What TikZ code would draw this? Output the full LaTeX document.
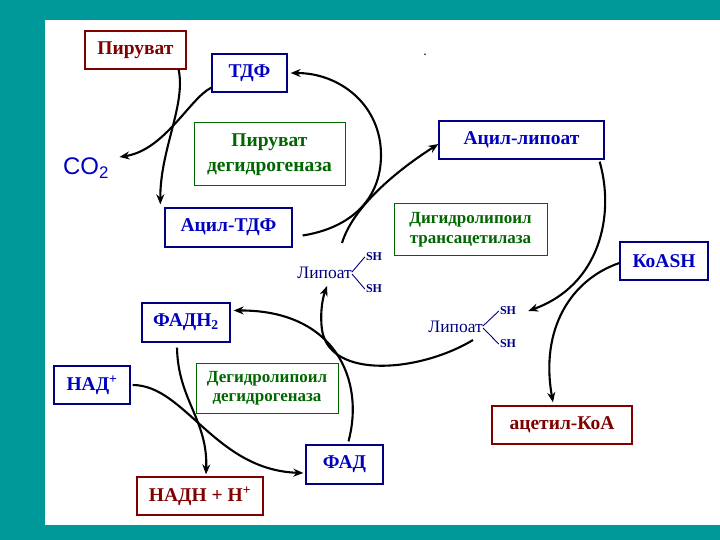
\documentclass[tikz,border=0pt]{standalone}
\usepackage{fontspec}
\setmainfont{Liberation Serif}
\newfontfamily\sansco{Liberation Sans}
\usetikzlibrary{arrows.meta,calc}
\definecolor{slideteal}{HTML}{009999}
\definecolor{subred}{HTML}{800000}
\definecolor{subblue}{HTML}{0000C0}
\definecolor{subnavy}{HTML}{000080}
\definecolor{enzgreen}{HTML}{006600}
\tikzset{
  redbox/.style={draw=subred, text=subred, line width=1.3pt, fill=white,
                 minimum height=38pt, inner sep=0pt, font=\fontsize{19.5}{22}\selectfont\bfseries},
  bluebox/.style={draw=subnavy, text=subblue, line width=1.3pt, fill=white,
                  minimum height=38pt, inner sep=0pt, font=\fontsize{19.5}{22}\selectfont\bfseries},
  enzbox/.style={draw=enzgreen, text=enzgreen, line width=1pt, fill=white,
                 align=center, inner sep=0pt},
  lipo/.style={text=subnavy, inner sep=0pt, font=\fontsize{17.5}{20}\selectfont},
  shlab/.style={text=subnavy, inner sep=1pt, font=\fontsize{12}{14}\selectfont\bfseries},
  react/.style={line width=2.1pt, -{Stealth[length=10pt,width=8pt]}}
}

\begin{document}
\begin{tikzpicture}[x=1pt,y=-1pt]
  % Slide frame
  \useasboundingbox (0,0) rectangle (720,540);
  \fill[slideteal] (0,0) rectangle (720,540);
  \fill[white] (45,20) rectangle (720,525);

  % Pyruvate dehydrogenase step
  \node[redbox, minimum width=101pt] (pyr) at (135.5,50) {Пируват};
  \node[bluebox, minimum width=75pt] (tdf) at (249.5,73) {ТДФ};
  \node[enzbox, minimum width=151pt, minimum height=63pt,
        font=\fontsize{19.5}{25}\selectfont\bfseries] (pdh) at (269.5,154.5) {Пируват\\дегидрогеназа};
  \node[text=subblue, font=\sansco\fontsize{24}{26}\selectfont] (co2) at (86,168) {CO\textsubscript{2}};
  \node[bluebox, minimum width=127pt, minimum height=39pt] (acyltdf) at (228.5,227.5) {Ацил-ТДФ};
  \node[font=\bfseries] (dot) at (425,55) {.};

  % Transacetylase step
  \node[bluebox, minimum width=165pt] (acyllip) at (521.5,140) {Ацил-липоат};
  \node[enzbox, minimum width=153pt, minimum height=51pt,
        font=\fontsize{17}{20}\selectfont\bfseries] (dlt) at (470.5,229.5) {Дигидролипоил\\трансацетилаза};
  \node[bluebox, minimum width=88pt] (coash) at (664,261) {КоASH};
  \node[redbox, minimum width=140pt] (acoa) at (562,425) {ацетил-КоА};

  % Lipoate forms
  \node[lipo, anchor=east] (lip1) at (352,273) {Липоат};
  \node[shlab] (lip1-a) at (374,257) {SH};
  \node[shlab] (lip1-b) at (374,289) {SH};
  \node[lipo, anchor=east] (lip2) at (483,327) {Липоат};
  \node[shlab] (lip2-a) at (508,311) {SH};
  \node[shlab] (lip2-b) at (508,344) {SH};
  \foreach \l in {lip1,lip2} {
    \draw[subnavy, line width=0.9pt] ([yshift=1pt]\l.east) -- (\l-a.west);
    \draw[subnavy, line width=0.9pt] ([yshift=-1pt]\l.east) -- (\l-b.west);
  }

  % Dehydrogenase step
  \node[bluebox, minimum width=88pt, minimum height=39pt] (fadh) at (186,322.5) {ФАДН\textsubscript{2}};
  \node[bluebox, minimum width=76pt] (nad) at (92,385) {НАД\textsuperscript{+}};
  \node[enzbox, minimum width=142pt, minimum height=50pt,
        font=\fontsize{17}{19}\selectfont\bfseries] (dld) at (267,388) {Дегидролипоил\\дегидрогеназа};
  \node[redbox, minimum width=126pt] (nadh) at (200,496) {НАДН + Н\textsuperscript{+}};
  \node[bluebox, minimum width=77pt, minimum height=39pt] (fad) at (344.5,464.5) {ФАД};

  % Reactions
  \draw[react] ([xshift=-8pt]pyr.south east) .. controls (186,105) and (160,150)
               .. ([xshift=-4pt,yshift=3pt]acyltdf.north west);
  \draw[react] ([yshift=5pt]tdf.south west) .. controls (190,98) and (165,150)
               .. ([xshift=7pt,yshift=11pt]co2.east);
  \draw[react] ([xshift=10pt,yshift=-8pt]acyltdf.east) .. controls (350,228) and (381,200)
               .. (381,155) .. controls (381,105) and (340,73) .. ([xshift=3pt]tdf.east);
  \draw[react] ([xshift=-10pt,yshift=30pt]lip1.east) .. controls (352,210) and (390,175)
               .. ([yshift=-4pt]acyllip.west);
  \draw[react] ([xshift=-5pt,yshift=-2pt]acyllip.south east) .. controls (615,215) and (600,285)
               .. ([xshift=11pt]lip2-a.east);
  \draw[react] ([yshift=-2pt]coash.west) .. controls (570,280) and (540,330)
               .. ([xshift=-9pt,yshift=3pt]acoa.north);
  \draw[react] ([xshift=-10pt,yshift=-13pt]lip2.east) .. controls (420,372) and (330,380)
               .. (322,330) .. controls (320,315) and (322,300) .. ([xshift=-25pt,yshift=-13pt]lip1.east);
  \draw[react] ([xshift=4pt,yshift=3pt]fad.north) .. controls (365,380) and (335,310)
               .. ([xshift=3pt,yshift=12pt]fadh.east);
  \draw[react] ([xshift=-9pt,yshift=-5pt]fadh.south) .. controls (178,400) and (208,420)
               .. ([xshift=6pt,yshift=2pt]nadh.north);
  \draw[react] ([xshift=2pt]nad.east) .. controls (185,385) and (215,470)
               .. ([xshift=-2pt,yshift=-8.5pt]fad.west);
\end{tikzpicture}
\end{document}
